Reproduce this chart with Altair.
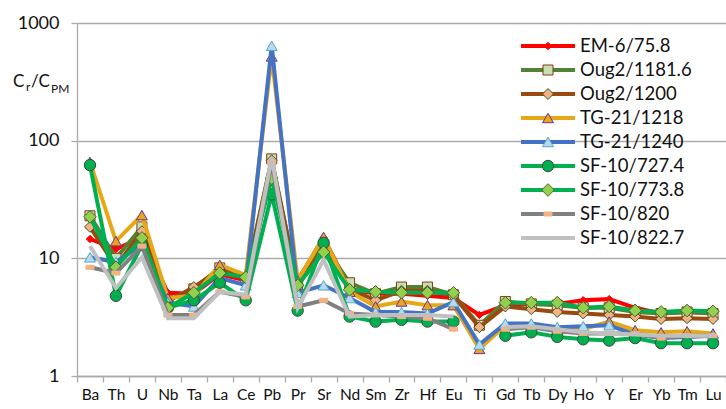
import altair as alt
import pandas as pd

elements = ["Ba", "Th", "U", "Nb", "Ta", "La", "Ce", "Pb", "Pr", "Sr", "Nd", "Sm", "Zr",
            "Hf", "Eu", "Ti", "Gd", "Tb", "Dy", "Ho", "Y", "Er", "Yb", "Tm", "Lu"]

series_names = ["EM-6/75.8", "Oug2/1181.6", "Oug2/1200", "TG-21/1218", "TG-21/1240",
                "SF-10/727.4", "SF-10/773.8", "SF-10/820", "SF-10/822.7"]

em6_758 = [14.6, 12.0, 15.0, 5.1, 5.0, 7.3, 6.5, 62, 6.5, 15.0, 5.5, 5.0, 5.0, 4.8, 4.6,
           3.3, 4.0, 4.1, 4.1, 4.4, 4.5, 3.8, 3.4, 3.5, 3.4]
oug2_11816 = [23, 10.0, 18.5, 4.4, 5.5, 8.3, 6.8, 70, 6.0, 13.0, 6.2, 5.0, 5.7, 5.7, 4.9,
              2.7, 4.3, 4.1, 4.0, 3.8, 3.8, 3.5, 3.4, 3.5, 3.4]
oug2_1200 = [18.5, 8.5, 17.0, 4.3, 5.7, 8.0, 6.7, 68, 5.8, 12.5, 5.5, 4.4, 5.3, 5.3, 4.8,
             2.6, 3.9, 3.7, 3.5, 3.4, 3.3, 3.2, 3.05, 3.1, 3.05]
tg21_1218 = [66, 14.0, 23.3, 4.6, 4.8, 8.8, 7.2, 520, 6.5, 15.2, 5.2, 3.9, 4.3, 4.0, 4.0,
             1.7, 2.7, 2.7, 2.5, 2.5, 2.9, 2.45, 2.35, 2.4, 2.3]
tg21_1240 = [10.2, 9.3, 13.0, 4.2, 3.9, 6.8, 5.9, 640, 5.1, 5.9, 4.6, 3.5, 3.5, 3.4, 4.25,
             1.85, 2.8, 2.8, 2.6, 2.65, 2.7, 2.25, 2.1, 2.15, 2.2]
sf10_7274 = [62, 4.8, 13.0, 3.8, 4.4, 6.2, 4.4, 35, 3.6, 13.5, 3.2, 2.9, 3.0, 2.9, 2.9,
             None, 2.2, 2.35, 2.15, 2.05, 2.0, 2.1, 1.9, 1.9, 1.9]
sf10_7738 = [22.5, 8.4, 14.9, 3.8, 5.1, 7.5, 6.9, 48, 5.9, 11.3, 5.4, 5.2, 5.1, 5.1, 5.1,
             None, 4.2, 4.2, 4.2, 3.8, 3.9, 3.6, 3.5, 3.6, 3.55]
sf10_820 = [8.4, 7.5, 12.7, 3.3, 3.3, 5.2, 4.7, 65, 3.9, 4.4, 3.4, 3.3, 3.2, 3.1, 2.5,
            None, 2.5, 2.6, 2.4, 2.3, 2.3, 2.3, 2.1, 2.2, 2.2]
sf10_8227 = [12.7, 5.6, 10.2, 3.1, 3.1, 5.2, 4.9, 72, 3.8, 9.7, 3.2, 3.3, 3.3, 3.3, 3.2,
             None, 2.6, 2.65, 2.5, 2.35, 2.3, 2.25, 2.2, 2.2, 2.2]

series_values = [em6_758, oug2_11816, oug2_1200, tg21_1218, tg21_1240,
                 sf10_7274, sf10_7738, sf10_820, sf10_8227]

rows = []
for name, vals in zip(series_names, series_values):
    for el, v in zip(elements, vals):
        rows.append({"series": name, "elem": el, "value": v})
df = pd.DataFrame(rows)
legend_df = pd.DataFrame({"series": series_names})

# styles
line_colors = ["#FF0000", "#548235", "#9A4A0E", "#E6A817", "#4472C4",
               "#00B050", "#00B050", "#808080", "#C0C0C0"]
marker_styles = [
    dict(shape="diamond", fill="#FF0000", stroke="#FF0000", size=55),
    dict(shape="square", fill="#C5E0B4", stroke="#843C0C", size=100),
    dict(shape="diamond", fill="#F4B183", stroke="#375623", size=120),
    dict(shape="triangle-up", fill="#E6A817", stroke="#7030A0", size=120),
    dict(shape="triangle-up", fill="#BDD7EE", stroke="#4BACC6", size=120),
    dict(shape="circle", fill="#00B050", stroke="#3A4A3A", size=130),
    dict(shape="diamond", fill="#92D050", stroke="#4F6228", size=160),
    dict(shape="M-1,-0.5L1,-0.5L1,0.5L-1,0.5Z", fill="#F4B183", stroke="#F4B183", size=64),
    None,
]

FONT = "Lato"
GRID = "#ABABAB"

X = alt.X("elem:N", sort=elements, bandPosition=0.5,
          scale=alt.Scale(type="band", domain=elements, paddingInner=0, paddingOuter=0),
          axis=alt.Axis(title=None, tickBand="extent", grid=False, domainColor=GRID,
                        domainWidth=1.3, tickColor=GRID, tickWidth=1.3, tickSize=6,
                        labelFont=FONT, labelFontSize=15.5, labelColor="#111111",
                        labelPadding=5, labelAngle=0))
Y = alt.Y("value:Q",
          scale=alt.Scale(type="log", domain=[1, 1000], nice=False),
          axis=alt.Axis(title=None, values=[1, 10, 100, 1000], format="d",
                        grid=True, gridColor=GRID, gridWidth=1.3,
                        domainColor=GRID, domainWidth=1.3, tickColor=GRID,
                        tickWidth=1.3, tickSize=6, labelFont=FONT, labelFontSize=18,
                        labelColor="#111111", labelPadding=12))

base = alt.Chart(df)
main_layers = []
for i, s in enumerate(series_names):
    main_layers.append(
        base.transform_filter(alt.datum.series == s)
        .mark_line(color=line_colors[i], strokeWidth=4, invalid="break-paths-filter-domains")
        .encode(x=X, y=Y)
    )
    ms = marker_styles[i]
    if ms is not None:
        main_layers.append(
            base.transform_filter((alt.datum.series == s) & alt.expr.isValid(alt.datum.value))
            .mark_point(shape=ms["shape"], filled=True, fill=ms["fill"], stroke=ms["stroke"],
                        strokeWidth=1, size=ms["size"], opacity=1)
            .encode(x=X, y=Y)
        )

main = alt.layer(*main_layers)

LY = alt.Y("series:N", sort=series_names,
           scale=alt.Scale(type="point", domain=series_names, range=[23, 215], padding=0),
           axis=None)
lbase = alt.Chart(legend_df)
legend_layers = []
for i, s in enumerate(series_names):
    f = lbase.transform_filter(alt.datum.series == s)
    legend_layers.append(
        f.mark_rule(color=line_colors[i], strokeWidth=4)
        .encode(x=alt.value(444), x2=alt.value(498), y=LY)
    )
    ms = marker_styles[i]
    if ms is not None:
        legend_layers.append(
            f.mark_point(shape=ms["shape"], filled=True, fill=ms["fill"], stroke=ms["stroke"],
                         strokeWidth=1, size=ms["size"], opacity=1)
            .encode(x=alt.value(471), y=LY)
        )
legend_layers.append(
    lbase.mark_text(align="left", baseline="middle", font=FONT, fontSize=18.5, color="#111111")
    .encode(x=alt.value(503), y=LY, text="series:N")
)

# y title C_r / C_PM
title_parts = [("C", -64, 64, 17), ("r", -51, 68, 12), ("/C", -46, 64, 17), ("PM", -26, 70, 12)]
title_df = pd.DataFrame({"t": [p[0] for p in title_parts]})
title_layers = []
for t, px, py, fs in title_parts:
    title_layers.append(
        alt.Chart(title_df).transform_filter(alt.datum.t == t)
        .mark_text(align="left", baseline="alphabetic", font=FONT, fontSize=fs, color="#111111")
        .encode(x=alt.value(px), y=alt.value(py), text="t:N")
    )

legend = alt.layer(*legend_layers, *title_layers)

chart = (
    alt.layer(main, legend)
    .resolve_scale(y="independent")
    .properties(width=649, height=353,
                autosize=alt.AutoSizeParams(type="none"),
                padding={"left": 77, "top": 23, "right": 0, "bottom": 33},
                background="white")
    .configure_view(stroke=None)
)

chart.save("out.html", embed_options={"renderer": "svg", "actions": False})
